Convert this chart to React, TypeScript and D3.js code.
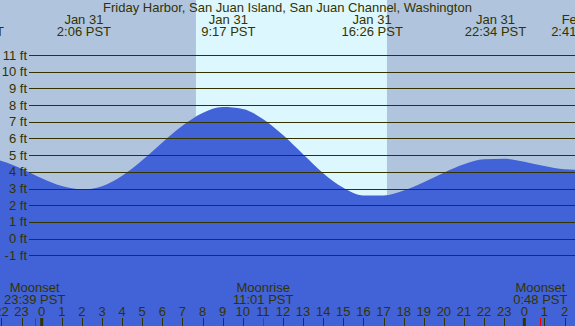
import React from "react";
import * as d3 from "d3";

// hours relative to Jan 31 00:00 PST
const tideHours = [-3, -2, -1, 0, 1, 2, 3, 4, 5, 6, 7, 8, 9, 10, 11, 12, 13, 14, 15, 16, 17, 18, 19, 20, 21, 22, 23, 24, 25, 26, 27];
const tideFeet = [4.84, 4.65, 4.19, 3.62, 3.15, 2.95, 3.14, 3.76, 4.69, 5.76, 6.76, 7.52, 7.88, 7.77, 7.17, 6.2, 5.05, 3.92, 3.04, 2.58, 2.58, 2.88, 3.38, 3.95, 4.45, 4.75, 4.78, 4.61, 4.35, 4.15, 4.11];

const extremeHours = [-3.4, 2.1, 9.283, 16.433, 22.567, 26.683];
const extremeDates = ["Jan 30", "Jan 31", "Jan 31", "Jan 31", "Jan 31", "Feb 1"];
const extremeTimes = ["20:36 PST", "2:06 PST", "9:17 PST", "16:26 PST", "22:34 PST", "2:41 PST"];

const sunrise = 7.67;
const sunset = 17.17;

const moonHours = [-0.35, 11.017, 24.8];
const moonEvents = ["Moonset", "Moonrise", "Moonset"];
const moonTimes = ["23:39 PST", "11:01 PST", "0:48 PST"];

const feetTicks = [-1, 0, 1, 2, 3, 4, 5, 6, 7, 8, 9, 10, 11];
const hourTicks = d3.range(-2, 27);

const W = 575, H = 326;
const ink = "#333300";
const font = "'Liberation Sans', Arial, sans-serif";

export default function App() {
  const x = d3.scaleLinear().domain([0, 24]).range([41.7, 524.3]);
  const y = d3.scaleLinear().domain([-1, 11]).range([255.3, 55]);

  const water = d3
    .area<number>()
    .x((_, i) => x(tideHours[i]))
    .y0(H)
    .y1((d) => y(d))
    .curve(d3.curveMonotoneX)(tideFeet);

  const px = (v: number) => Math.round(v) + 0.5;

  return (
    <div style={{ position: "absolute", left: 0, top: 0 }}>
      <svg width={W} height={H} style={{ display: "block" }} fontFamily={font} fontSize={13}>
        <rect x={0} y={0} width={W} height={H} fill="#b0c4de" />
        <rect x={x(sunrise)} y={0} width={x(sunset) - x(sunrise)} height={H} fill="#ddf7ff" />
        <path d={water || ""} fill="#4262d8" />

        {feetTicks.map((f) => (
          <g key={f}>
            <line x1={29} x2={W} y1={px(y(f))} y2={px(y(f))} stroke={ink} strokeWidth={1} />
            <text x={27} y={y(f) + 4.5} textAnchor="end" fill={ink}>
              {f} ft
            </text>
          </g>
        ))}

        <text x={287.5} y={12} textAnchor="middle" fill={ink}>
          Friday Harbor, San Juan Island, San Juan Channel, Washington
        </text>
        {extremeHours.map((h, i) => (
          <g key={i}>
            <text x={x(h)} y={24} textAnchor="middle" fill={ink}>{extremeDates[i]}</text>
            <text x={x(h)} y={36} textAnchor="middle" fill={ink}>{extremeTimes[i]}</text>
          </g>
        ))}

        {hourTicks.map((h) => (
          <g key={h}>
            <text x={x(h)} y={316} textAnchor="middle" fill={ink}>
              {((h % 24) + 24) % 24}
            </text>
            {h % 24 === 0 ? (
              <rect x={x(h) - 1.5} y={318} width={3} height={8} fill={ink} />
            ) : (
              <line x1={px(x(h))} x2={px(x(h))} y1={318} y2={H} stroke={ink} />
            )}
          </g>
        ))}

        {moonHours.map((h, i) => (
          <g key={i}>
            <line x1={px(x(h))} x2={px(x(h))} y1={318} y2={H} stroke="#ff0000" />
            <text x={x(h)} y={291.5} textAnchor="middle" fill={ink}>{moonEvents[i]}</text>
            <text x={x(h)} y={303.5} textAnchor="middle" fill={ink}>{moonTimes[i]}</text>
          </g>
        ))}
      </svg>
    </div>
  );
}
